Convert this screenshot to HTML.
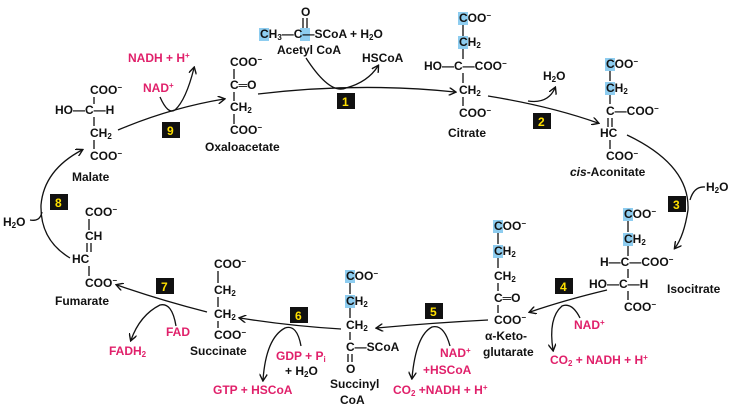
<!DOCTYPE html>
<html><head><meta charset="utf-8"><style>
html,body{margin:0;padding:0;background:#fff;width:736px;height:408px;overflow:hidden}
svg{display:block}
text{font-family:"Liberation Sans",sans-serif;font-weight:bold;font-size:12px;fill:#111}
.p{fill:#e0206a}
.l{font-size:12px}
.n{fill:#ffe000;font-size:12px}
line,path{stroke:#111;stroke-width:1.3;fill:none}
.hl{fill:#8ecdf0;stroke:none}
</style></head><body>
<svg width="736" height="408" viewBox="0 0 736 408">
<defs><marker id="a" markerWidth="8" markerHeight="8" refX="6" refY="4" orient="auto" markerUnits="userSpaceOnUse"><path d="M0,0 L7,4 L0,8" style="stroke:#111;stroke-width:1.4;fill:none"/></marker></defs>

<!-- Acetyl CoA -->
<rect class="hl" x="259" y="28" width="10" height="13"/><rect class="hl" x="300" y="28" width="10" height="13"/>
<text x="301" y="16">O</text>
<line x1="303" y1="18" x2="303" y2="28"/><line x1="307" y1="18" x2="307" y2="28"/>
<text x="260" y="38">CH<tspan font-size="8" dy="2">3</tspan><tspan dy="-2">—</tspan>C—SCoA + H<tspan font-size="8" dy="2">2</tspan><tspan dy="-2">O</tspan></text>
<text x="277" y="54" class="l">Acetyl CoA</text>
<text x="362" y="62" class="l">HSCoA</text>
<path d="M306,58 Q330,95 346,88 Q368,82 378,66" marker-end="url(#a)"/>
<path d="M258,94 Q360,82 455,92" marker-end="url(#a)"/>
<rect x="337" y="93" width="18" height="16" fill="#111"/><text x="342" y="106" class="n">1</text>

<!-- Oxaloacetate -->
<text x="230" y="66">COO<tspan font-size="8" dy="-4">−</tspan></text>
<line x1="234" y1="69" x2="234" y2="79"/>
<text x="230" y="89">C═O</text>
<line x1="234" y1="92" x2="234" y2="101"/>
<text x="230" y="111">CH<tspan font-size="8" dy="2">2</tspan></text>
<line x1="234" y1="114" x2="234" y2="124"/>
<text x="230" y="134">COO<tspan font-size="8" dy="-4">−</tspan></text>
<text x="205" y="151" class="l">Oxaloacetate</text>

<!-- step 9 -->
<text x="128" y="62" class="p">NADH + H<tspan font-size="8" dy="-4">+</tspan></text>
<text x="143" y="92" class="p">NAD<tspan font-size="8" dy="-4">+</tspan></text>
<path d="M118,130 Q170,108 224,99" marker-end="url(#a)"/>
<path d="M160,97 Q168,115 175,110 Q186,100 194,68" marker-end="url(#a)"/>
<rect x="162" y="122" width="18" height="16" fill="#111"/><text x="167" y="135" class="n">9</text>

<!-- Malate -->
<text x="90" y="94">COO<tspan font-size="8" dy="-4">−</tspan></text>
<line x1="94" y1="97" x2="94" y2="104"/>
<text x="55" y="114">HO—C—H</text>
<line x1="94" y1="117" x2="94" y2="126"/>
<text x="90" y="137">CH<tspan font-size="8" dy="2">2</tspan></text>
<line x1="94" y1="140" x2="94" y2="149"/>
<text x="90" y="160">COO<tspan font-size="8" dy="-4">−</tspan></text>
<text x="72" y="181" class="l">Malate</text>

<!-- Citrate -->
<rect class="hl" x="458" y="12" width="10" height="13"/><rect class="hl" x="458" y="36" width="10" height="13"/>
<text x="459" y="22">COO<tspan font-size="8" dy="-4">−</tspan></text>
<line x1="463" y1="25" x2="463" y2="36"/>
<text x="459" y="46">CH<tspan font-size="8" dy="2">2</tspan></text>
<line x1="463" y1="49" x2="463" y2="59"/>
<text x="424" y="70">HO—C—COO<tspan font-size="8" dy="-4">−</tspan></text>
<line x1="463" y1="73" x2="463" y2="83"/>
<text x="459" y="94">CH<tspan font-size="8" dy="2">2</tspan></text>
<line x1="463" y1="97" x2="463" y2="106"/>
<text x="459" y="117">COO<tspan font-size="8" dy="-4">−</tspan></text>
<text x="448" y="137" class="l">Citrate</text>

<!-- step 2 -->
<text x="543" y="80">H<tspan font-size="8" dy="2">2</tspan><tspan dy="-2">O</tspan></text>
<path d="M488,96 Q550,106 598,123" marker-end="url(#a)"/>
<path d="M528,101 Q548,104 555,88" marker-end="url(#a)"/>
<rect x="533" y="113" width="18" height="16" fill="#111"/><text x="538" y="126" class="n">2</text>

<!-- cis-Aconitate -->
<rect class="hl" x="605" y="58" width="10" height="13"/><rect class="hl" x="605" y="82" width="10" height="13"/>
<text x="606" y="68">COO<tspan font-size="8" dy="-4">−</tspan></text>
<line x1="610" y1="71" x2="610" y2="81"/>
<text x="606" y="92">CH<tspan font-size="8" dy="2">2</tspan></text>
<line x1="610" y1="95" x2="610" y2="104"/>
<text x="606" y="115">C—COO<tspan font-size="8" dy="-4">−</tspan></text>
<line x1="608" y1="118" x2="608" y2="127"/><line x1="612" y1="118" x2="612" y2="127"/>
<text x="600" y="137">HC</text>
<line x1="610" y1="140" x2="610" y2="149"/>
<text x="606" y="160">COO<tspan font-size="8" dy="-4">−</tspan></text>
<text x="570" y="176" class="l"><tspan font-style="italic">cis</tspan>-Aconitate</text>

<!-- step 3 -->
<path d="M627,135 Q690,165 688,210 Q684,236 675,248" marker-end="url(#a)"/>
<path d="M705,187 Q694,186 690,200"/>
<text x="706" y="191">H<tspan font-size="8" dy="2">2</tspan><tspan dy="-2">O</tspan></text>
<rect x="668" y="196" width="18" height="16" fill="#111"/><text x="673" y="209" class="n">3</text>

<!-- Isocitrate -->
<rect class="hl" x="623" y="208" width="10" height="13"/><rect class="hl" x="623" y="233" width="10" height="13"/>
<text x="624" y="218">COO<tspan font-size="8" dy="-4">−</tspan></text>
<line x1="628" y1="221" x2="628" y2="232"/>
<text x="624" y="243">CH<tspan font-size="8" dy="2">2</tspan></text>
<line x1="628" y1="246" x2="628" y2="256"/>
<text x="600" y="266">H—C—COO<tspan font-size="8" dy="-4">−</tspan></text>
<line x1="628" y1="269" x2="628" y2="278"/>
<text x="589" y="288">HO—C—H</text>
<line x1="628" y1="291" x2="628" y2="300"/>
<text x="624" y="311">COO<tspan font-size="8" dy="-4">−</tspan></text>
<text x="667" y="293" class="l">Isocitrate</text>

<!-- step 4 -->
<path d="M607,290 Q565,300 530,312" marker-end="url(#a)"/>
<path d="M580,318 Q572,302 562,306 Q548,318 553,350" marker-end="url(#a)"/>
<text x="574" y="329" class="p">NAD<tspan font-size="8" dy="-4">+</tspan></text>
<text x="550" y="364" class="p">CO<tspan font-size="8" dy="2">2</tspan><tspan dy="-2"> + NADH + H</tspan><tspan font-size="8" dy="-4">+</tspan></text>
<rect x="555" y="278" width="18" height="16" fill="#111"/><text x="560" y="291" class="n">4</text>

<!-- alpha-KG -->
<rect class="hl" x="493" y="220" width="10" height="13"/><rect class="hl" x="493" y="245" width="10" height="13"/>
<text x="494" y="230">COO<tspan font-size="8" dy="-4">−</tspan></text>
<line x1="498" y1="233" x2="498" y2="244"/>
<text x="494" y="255">CH<tspan font-size="8" dy="2">2</tspan></text>
<line x1="498" y1="258" x2="498" y2="268"/>
<text x="494" y="280">CH<tspan font-size="8" dy="2">2</tspan></text>
<line x1="498" y1="283" x2="498" y2="291"/>
<text x="494" y="302">C═O</text>
<line x1="498" y1="305" x2="498" y2="313"/>
<text x="494" y="324">COO<tspan font-size="8" dy="-4">−</tspan></text>
<text x="485" y="340" class="l">α-Keto-</text>
<text x="483" y="356" class="l">glutarate</text>

<!-- step 5 -->
<path d="M488,320 Q430,323 377,328" marker-end="url(#a)"/>
<path d="M450,346 Q444,324 432,327 Q416,335 412,378" marker-end="url(#a)"/>
<text x="440" y="357" class="p">NAD<tspan font-size="8" dy="-4">+</tspan></text>
<text x="423" y="374" class="p">+HSCoA</text>
<text x="393" y="394" class="p">CO<tspan font-size="8" dy="2">2</tspan><tspan dy="-2"> +NADH + H</tspan><tspan font-size="8" dy="-4">+</tspan></text>
<rect x="425" y="303" width="18" height="16" fill="#111"/><text x="430" y="316" class="n">5</text>

<!-- Succinyl CoA -->
<rect class="hl" x="345" y="270" width="10" height="13"/><rect class="hl" x="345" y="295" width="10" height="13"/>
<text x="346" y="280">COO<tspan font-size="8" dy="-4">−</tspan></text>
<line x1="350" y1="283" x2="350" y2="294"/>
<text x="346" y="305">CH<tspan font-size="8" dy="2">2</tspan></text>
<line x1="350" y1="308" x2="350" y2="318"/>
<text x="346" y="329">CH<tspan font-size="8" dy="2">2</tspan></text>
<line x1="350" y1="332" x2="350" y2="340"/>
<text x="346" y="351">C—SCoA</text>
<line x1="348" y1="354" x2="348" y2="362"/><line x1="352" y1="354" x2="352" y2="362"/>
<text x="346" y="373">O</text>
<text x="330" y="388" class="l">Succinyl</text>
<text x="340" y="404" class="l">CoA</text>

<!-- step 6 -->
<path d="M341,329 Q290,326 240,318" marker-end="url(#a)"/>
<path d="M301,346 Q297,324 285,328 Q266,338 263,380" marker-end="url(#a)"/>
<text x="276" y="360" class="p">GDP + P<tspan font-size="8" dy="2">i</tspan></text>
<text x="285" y="375">+ H<tspan font-size="8" dy="2">2</tspan><tspan dy="-2">O</tspan></text>
<text x="213" y="394" class="p">GTP + HSCoA</text>
<rect x="290" y="307" width="18" height="16" fill="#111"/><text x="295" y="320" class="n">6</text>

<!-- Succinate -->
<text x="214" y="268">COO<tspan font-size="8" dy="-4">−</tspan></text>
<line x1="218" y1="271" x2="218" y2="283"/>
<text x="214" y="294">CH<tspan font-size="8" dy="2">2</tspan></text>
<line x1="218" y1="297" x2="218" y2="307"/>
<text x="214" y="318">CH<tspan font-size="8" dy="2">2</tspan></text>
<line x1="218" y1="321" x2="218" y2="328"/>
<text x="214" y="339">COO<tspan font-size="8" dy="-4">−</tspan></text>
<text x="190" y="355" class="l">Succinate</text>

<!-- step 7 -->
<path d="M207,312 Q160,300 117,285" marker-end="url(#a)"/>
<path d="M176,326 Q172,302 160,305 Q140,315 131,340" marker-end="url(#a)"/>
<text x="166" y="336" class="p">FAD</text>
<text x="109" y="355" class="p">FADH<tspan font-size="8" dy="2">2</tspan></text>
<rect x="156" y="278" width="18" height="16" fill="#111"/><text x="161" y="291" class="n">7</text>

<!-- Fumarate -->
<text x="85" y="216">COO<tspan font-size="8" dy="-4">−</tspan></text>
<line x1="89" y1="219" x2="89" y2="230"/>
<text x="85" y="240">CH</text>
<line x1="87" y1="243" x2="87" y2="252"/><line x1="91" y1="243" x2="91" y2="252"/>
<text x="72" y="263">HC</text>
<line x1="89" y1="266" x2="89" y2="276"/>
<text x="85" y="287">COO<tspan font-size="8" dy="-4">−</tspan></text>
<text x="55" y="305" class="l">Fumarate</text>

<!-- step 8 -->
<path d="M70,258 Q40,240 41,205 Q44,170 82,150" marker-end="url(#a)"/>
<path d="M30,220 Q40,222 42,212"/>
<text x="3" y="226">H<tspan font-size="8" dy="2">2</tspan><tspan dy="-2">O</tspan></text>
<rect x="50" y="194" width="18" height="16" fill="#111"/><text x="55" y="207" class="n">8</text>
</svg>
</body></html>
